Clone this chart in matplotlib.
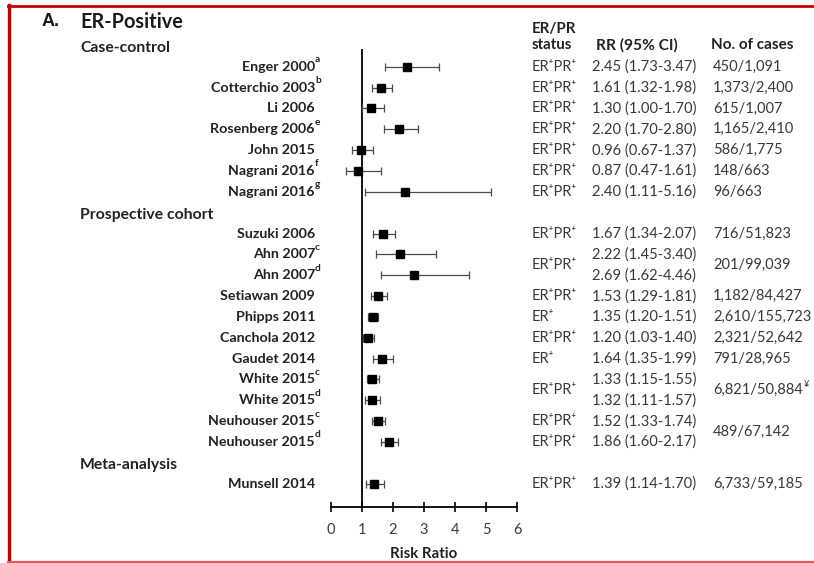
import matplotlib
matplotlib.use("Agg")
import matplotlib.pyplot as plt
from matplotlib.transforms import blended_transform_factory
from matplotlib.lines import Line2D

# ---- data -------------------------------------------------------------
groups = ["Case-control", "Prospective cohort", "Meta-analysis"]
group_sizes = [7, 11, 1]

studies = ["Enger 2000", "Cotterchio 2003", "Li 2006", "Rosenberg 2006",
           "John 2015", "Nagrani 2016", "Nagrani 2016",
           "Suzuki 2006", "Ahn 2007", "Ahn 2007", "Setiawan 2009",
           "Phipps 2011", "Canchola 2012", "Gaudet 2014", "White 2015",
           "White 2015", "Neuhouser 2015", "Neuhouser 2015",
           "Munsell 2014"]
notes = ["a", "b", "", "e", "", "f", "g",
         "", "c", "d", "", "", "", "", "c", "d", "c", "d",
         ""]
rr = [2.45, 1.61, 1.30, 2.20, 0.96, 0.87, 2.40,
      1.67, 2.22, 2.69, 1.53, 1.35, 1.20, 1.64, 1.33, 1.32, 1.52, 1.86,
      1.39]
ci_lo = [1.73, 1.32, 1.00, 1.70, 0.67, 0.47, 1.11,
         1.34, 1.45, 1.62, 1.29, 1.20, 1.03, 1.35, 1.15, 1.11, 1.33, 1.60,
         1.14]
ci_hi = [3.47, 1.98, 1.70, 2.80, 1.37, 1.61, 5.16,
         2.07, 3.40, 4.46, 1.81, 1.51, 1.40, 1.99, 1.55, 1.57, 1.74, 2.17,
         1.70]

# (text, number of study rows the cell spans)
status_cells = [("ER⁺PR⁺", 1)] * 7 + [
    ("ER⁺PR⁺", 1), ("ER⁺PR⁺", 2), ("ER⁺PR⁺", 1), ("ER⁺", 1),
    ("ER⁺PR⁺", 1), ("ER⁺", 1), ("ER⁺PR⁺", 2), ("ER⁺PR⁺", 1),
    ("ER⁺PR⁺", 1), ("ER⁺PR⁺", 1)]
cases_cells = [("450/1,091", 1), ("1,373/2,400", 1), ("615/1,007", 1),
               ("1,165/2,410", 1), ("586/1,775", 1), ("148/663", 1),
               ("96/663", 1), ("716/51,823", 1), ("201/99,039", 2),
               ("1,182/84,427", 1), ("2,610/155,723", 1),
               ("2,321/52,642", 1), ("791/28,965", 1),
               ("6,821/50,884", 2), ("489/67,142", 2), ("6,733/59,185", 1)]
cases_marks = [""] * 13 + ["¥", "", ""]

xticks = [0, 1, 2, 3, 4, 5, 6]

# ---- layout -------------------------------------------------------------
W, H = 814, 563
fig = plt.figure(figsize=(W / 100, H / 100), dpi=100)
fig.patch.set_facecolor("white")

def fx(px):
    return px / W

def fy(py):
    return 1 - py / H

row0, step = 66.7, 20.85           # pixel centre of first study row, row pitch
y_top_px, y_axis_px = 49, 507
top_idx = (y_top_px - row0) / step
bot_idx = (y_axis_px - row0) / step

ax = fig.add_axes([fx(331), fy(y_axis_px), fx(517) - fx(331),
                   (y_axis_px - y_top_px) / H])
ax.set_xlim(0, 6)
ax.set_ylim(bot_idx, top_idx)

# row index for every study, leaving a slot for each group heading
ypos, head_pos = [], []
slot = -1
for n in group_sizes:
    head_pos.append(slot)
    slot += 1
    for _ in range(n):
        ypos.append(slot)
        slot += 1

LBL = ["Lato", "DejaVu Sans"]
txt_dark = "#222222"
txt_col = "#383838"

# forest marks
ax.axvline(1, color="black", lw=1.3, zorder=1)
for y, r, lo, hi in zip(ypos, rr, ci_lo, ci_hi):
    ax.errorbar(r, y, xerr=[[r - lo], [hi - r]], fmt="none",
                ecolor="#4a4a4a", elinewidth=0.9, capsize=3.2,
                capthick=0.9, zorder=2)
ax.plot(rr, ypos, linestyle="none", marker="s", markersize=6.4,
        color="black", zorder=3)

for s in ("top", "right", "left"):
    ax.spines[s].set_visible(False)
ax.spines["bottom"].set_linewidth(1.3)
ax.set_yticks([])
ax.set_xticks(xticks)
ax.tick_params(axis="x", direction="inout", length=7, width=1.2,
               pad=8, labelsize=10.5, labelcolor="#3a3a3a")
for t in ax.get_xticklabels():
    t.set_family(LBL)
ax.set_xlabel("Risk Ratio", fontsize=10.8, fontweight="bold",
              family=LBL, color=txt_dark, labelpad=7)

# text columns: x in figure pixels, y in row units
tr = blended_transform_factory(fig.transFigure, ax.transData)

for g, hp in zip(groups, head_pos):
    fig.text(fx(80), hp + 0.1, g, transform=tr, ha="left", va="center",
             fontsize=11.3, fontweight="bold", family=LBL, color=txt_dark)

for name, note, y in zip(studies, notes, ypos):
    fig.text(fx(315), y, name, transform=tr, ha="right", va="center",
             fontsize=10.3, fontweight="bold", family=LBL, color=txt_dark)
    if note:
        fig.text(fx(315), y - 0.34, note, transform=tr, ha="left",
                 va="center", fontsize=7.3, fontweight="bold",
                 family=LBL, color=txt_dark)

for r, lo, hi, y in zip(rr, ci_lo, ci_hi, ypos):
    fig.text(fx(592), y, f"{r:.2f} ({lo:.2f}-{hi:.2f})", transform=tr,
             ha="left", va="center", fontsize=10.6, family=LBL,
             color=txt_col)

i = 0
for text, span in status_cells:
    yc = sum(ypos[i:i + span]) / span
    fig.text(fx(532), yc, text, transform=tr, ha="left", va="center",
             fontsize=10.5, family=LBL, color=txt_col)
    i += span

i = 0
for (text, span), mark in zip(cases_cells, cases_marks):
    yc = sum(ypos[i:i + span]) / span
    t = fig.text(fx(713), yc, text, transform=tr, ha="left", va="center",
                 fontsize=10.5, family=LBL, color=txt_col)
    if mark:
        fig.canvas.draw()
        bb = t.get_window_extent()
        fig.text(bb.x1 / W + fx(1), yc - 0.25, mark, transform=tr,
                 ha="left", va="center", fontsize=6.5, family=LBL,
                 color=txt_col)
    i += span

# headings
fig.text(fx(42), fy(22), "A.", ha="left", va="center", fontsize=13,
         fontweight="bold", family=["Liberation Sans", "DejaVu Sans"],
         color="#1a1a1a")
fig.text(fx(80), fy(22), "ER-Positive", ha="left", va="center",
         fontsize=14.3, fontweight="bold", family=LBL, color="#1a1a1a")
fig.text(fx(532), fy(29), "ER/PR", ha="left", va="center", fontsize=10.8,
         fontweight="bold", family=LBL, color=txt_dark)
fig.text(fx(532), fy(45), "status", ha="left", va="center", fontsize=10.8,
         fontweight="bold", family=LBL, color=txt_dark)
fig.text(fx(637), fy(45), "RR (95% CI)", ha="center", va="center",
         fontsize=11.2, fontweight="bold", family=LBL, color=txt_dark)
fig.text(fx(711), fy(45), "No. of cases", ha="left", va="center",
         fontsize=11, fontweight="bold", family=LBL, color=txt_dark)

# red panel frame (right side runs off the canvas)
fig.add_artist(Line2D([fx(8.5), fx(8.5)], [fy(5), fy(562)],
                      transform=fig.transFigure, color="#c40000", lw=2.4))
fig.add_artist(Line2D([fx(7.5), 1.0], [fy(6), fy(6)],
                      transform=fig.transFigure, color="#cc0000", lw=2.0))
fig.add_artist(Line2D([fx(7.5), 1.0], [fy(562), fy(562)],
                      transform=fig.transFigure, color="#e05a5a", lw=1.6))

fig.savefig("out.png", dpi=100, facecolor="white")
